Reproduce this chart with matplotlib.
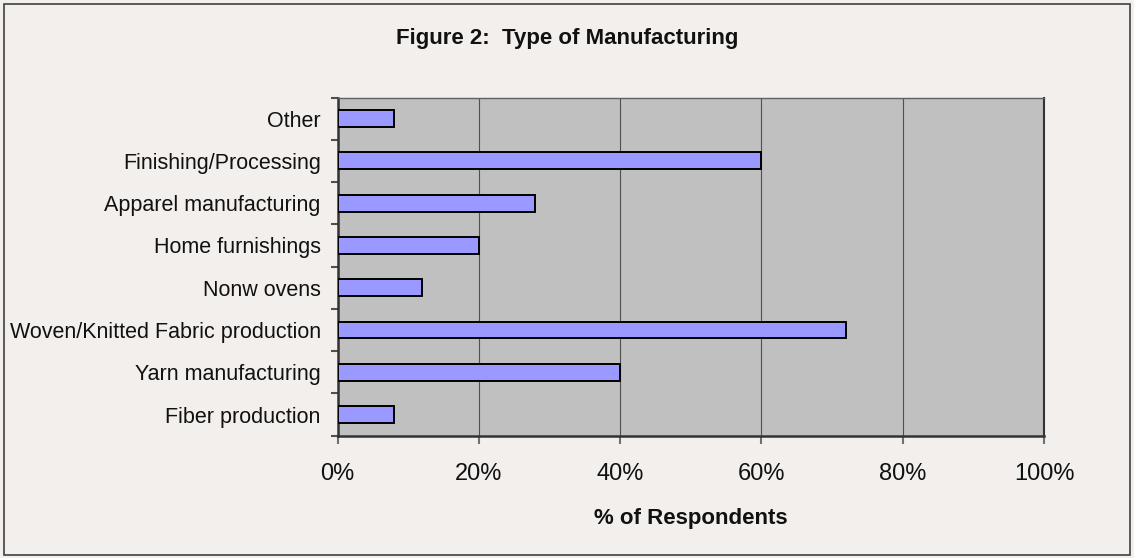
import matplotlib
matplotlib.use("Agg")
import matplotlib.pyplot as plt
from matplotlib.patches import Rectangle
from matplotlib.ticker import FuncFormatter, FixedLocator

categories = ["Fiber production", "Yarn manufacturing", "Woven/Knitted Fabric production",
              "Nonw ovens", "Home furnishings", "Apparel manufacturing",
              "Finishing/Processing", "Other"]
values = [8, 40, 72, 12, 20, 28, 60, 8]
x_ticks = [0, 20, 40, 60, 80, 100]

plt.rcParams['font.family'] = ['Liberation Sans', 'DejaVu Sans']

W, H = 1134, 558
fig = plt.figure(figsize=(W / 100, H / 100), dpi=100)
fig.patch.set_facecolor('#F2EFEC')
fig.patches.append(Rectangle((4 / W, 3 / H), (W - 8) / W, (H - 7) / H, transform=fig.transFigure,
                             fill=False, edgecolor='#404040', linewidth=1.2, zorder=0))

ax = fig.add_axes([337.5 / W, 1 - 435.7 / H, (1044 - 337.5) / W, (435.7 - 97.5) / H])
ax.set_facecolor('#C0C0C0')

ypos = list(range(len(categories)))
ax.barh(ypos, values, height=0.4, color='#9999FF', edgecolor='black', linewidth=1.4, zorder=3)

ax.set_xlim(0, 100)
ax.set_ylim(-0.5, len(categories) - 0.5)

ax.xaxis.set_major_locator(FixedLocator(x_ticks))
ax.xaxis.set_major_formatter(FuncFormatter(lambda v, p: f"{int(v)}%"))
ax.grid(axis='x', color='#505050', linewidth=0.8, zorder=1)
ax.set_axisbelow(True)

# y: boundary ticks (major, no labels), centered labels (minor, no tick marks)
ax.set_yticks([i - 0.5 for i in range(len(categories) + 1)])
ax.set_yticklabels([])
ax.set_yticks(ypos, minor=True)
ax.set_yticklabels(categories, minor=True)
ax.tick_params(axis='y', which='minor', length=0, pad=12, labelsize=15.5, labelcolor='#111111')
ax.tick_params(axis='y', which='major', length=5, width=1.5, color='#505050', direction='out')
ax.tick_params(axis='x', which='major', length=6, width=1.5, color='#707070', direction='out',
               labelsize=17, pad=14, labelcolor='#111111')

for side in ['left', 'bottom']:
    ax.spines[side].set_color('#333333')
    ax.spines[side].set_linewidth(1.8)
ax.spines['right'].set_color('#333333')
ax.spines['right'].set_linewidth(1.5)
ax.spines['top'].set_color('#606060')
ax.spines['top'].set_linewidth(1.0)

ax.set_xlabel("% of Respondents", fontsize=16, fontweight='bold', labelpad=16, color='#111111')
fig.text(0.5, 1 - 38.3 / H, "Figure 2:  Type of Manufacturing", ha='center', va='center',
         fontsize=16, fontweight='bold', color='#111111')

fig.savefig("out.png", dpi=100, facecolor=fig.get_facecolor())
